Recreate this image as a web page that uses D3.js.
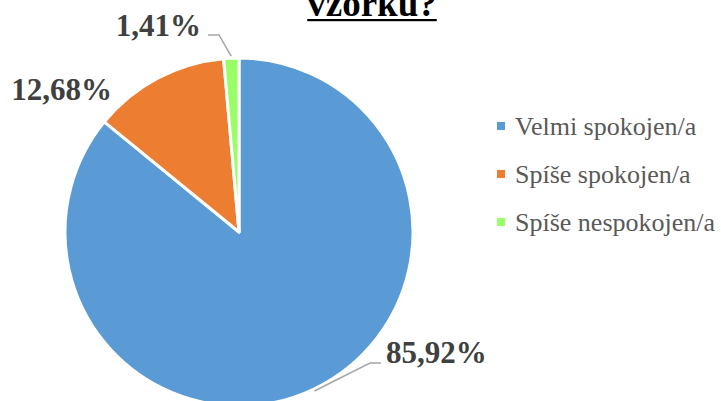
<!DOCTYPE html>
<html>
<head>
<meta charset="utf-8">
<script src="https://cdn.jsdelivr.net/npm/d3@7"></script>
<style>
  html, body { margin: 0; padding: 0; background: #fff; }
  svg { display: block; }
</style>
</head>
<body>
<svg id="chart" width="721" height="401"></svg>
<script>
const categories = ["Velmi spokojen/a", "Spíše spokojen/a", "Spíše nespokojen/a"];
const values = [85.92, 12.68, 1.41];
const valueLabels = ["85,92%", "12,68%", "1,41%"];
const colors = ["#5B9BD5", "#ED7D31", "#99FF66"];
const titleText = "vzorku?";

const svg = d3.select("#chart");
const cx = 239, cy = 232, r = 174;

// Title (clipped at top in reference)
const title = svg.append("text")
  .attr("x", 372).attr("y", 16)
  .attr("text-anchor", "middle")
  .attr("font-family", "'Liberation Serif', 'Times New Roman', serif")
  .attr("font-weight", "bold")
  .attr("font-size", 37)
  .attr("fill", "#000")
  .text(titleText);
const tb = title.node().getBBox();
svg.append("rect").attr("x", tb.x).attr("y", 19).attr("width", tb.width).attr("height", 2.2).attr("fill", "#000");

const pie = d3.pie().sort(null).value(d => d);
const arcs = pie(values);
const arc = d3.arc().innerRadius(0).outerRadius(r);

const g = svg.append("g").attr("transform", `translate(${cx},${cy})`);
g.selectAll("path").data(arcs).enter().append("path")
  .attr("d", arc)
  .attr("fill", (d, i) => colors[i])
  .attr("stroke", "#fff")
  .attr("stroke-width", 3)
  .attr("stroke-linejoin", "round");

// Labels
const labelFont = "'Liberation Serif', 'Times New Roman', serif";
const pt = (a, rad) => [cx + rad * Math.sin(a), cy - rad * Math.cos(a)];
const mid = d => (d.startAngle + d.endAngle) / 2;

// label layout: [anchor, x, y] and optional leader elbow
const labelLayout = [
  { x: 386, y: 363, anchor: "start", elbow: [370, 363], end: [381, 363] },
  { x: 112, y: 100, anchor: "end", elbow: null },
  { x: 201, y: 36, anchor: "end", elbow: [219, 35], end: [208, 35] }
];

arcs.forEach((d, i) => {
  const L = labelLayout[i];
  if (L.elbow) {
    const s = pt(mid(d), r + 2);
    svg.append("polyline")
      .attr("points", [s, L.elbow, L.end].map(p => p.join(",")).join(" "))
      .attr("fill", "none")
      .attr("stroke", "#A6A6A6")
      .attr("stroke-width", 1.5);
  }
  svg.append("text")
    .attr("x", L.x).attr("y", L.y)
    .attr("text-anchor", L.anchor)
    .attr("font-family", labelFont)
    .attr("font-weight", "bold")
    .attr("font-size", 31)
    .attr("fill", "#404040")
    .text(valueLabels[i]);
});

// Legend
const legend = svg.append("g");
const legY = d3.scaleBand().domain(categories).range([102, 246]);
categories.forEach((c, i) => {
  const yc = legY(c) + legY.bandwidth() / 2;
  legend.append("rect")
    .attr("x", 497).attr("y", yc - 4).attr("width", 8).attr("height", 8)
    .attr("fill", colors[i]);
  legend.append("text")
    .attr("x", 515).attr("y", yc + 9)
    .attr("font-family", labelFont)
    .attr("font-size", 26)
    .attr("fill", "#595959")
    .text(c);
});
</script>
</body>
</html>
